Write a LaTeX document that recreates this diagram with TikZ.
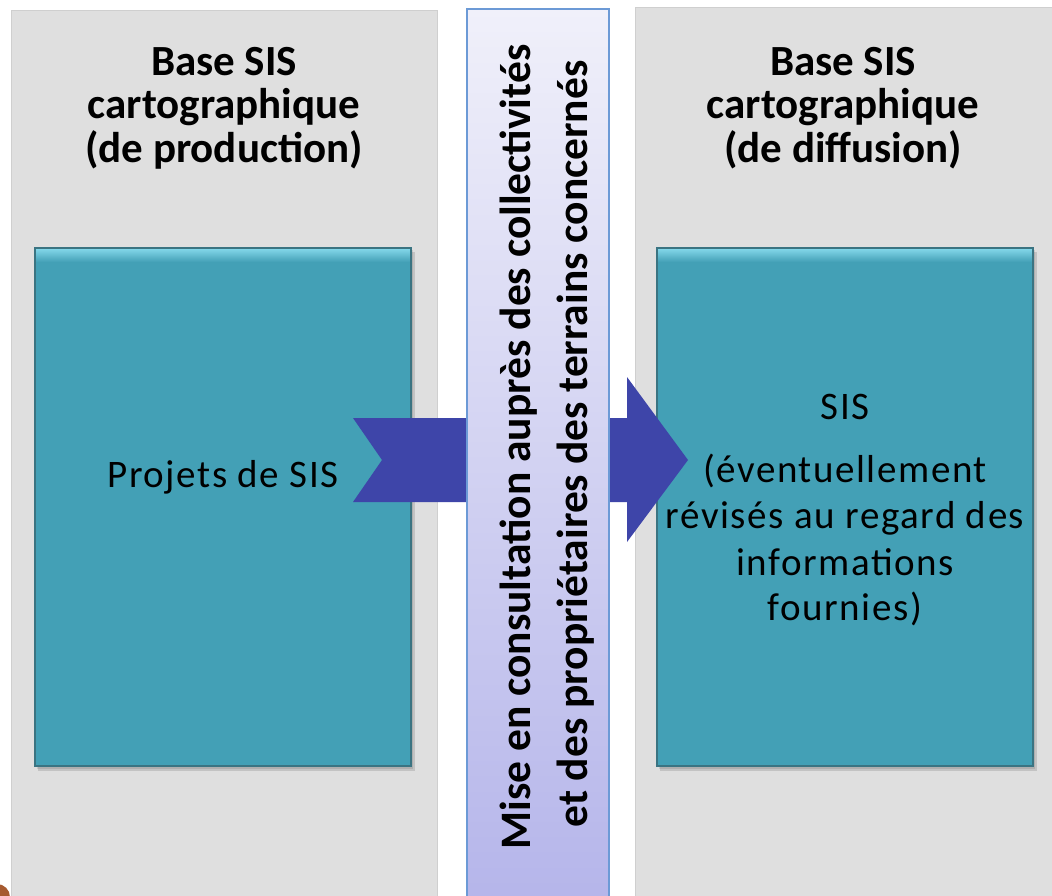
\documentclass[tikz,border=0pt]{standalone}
\usepackage{fontspec}
\setmainfont{Carlito}
\newfontfamily\bodyfont[LetterSpace=4]{Carlito}
\definecolor{panelgray}{HTML}{DFDFDF}
\definecolor{paneledge}{HTML}{CFCFCF}
\definecolor{tealfill}{HTML}{43A0B6}
\definecolor{teallight}{HTML}{86D9EC}
\definecolor{tealedge}{HTML}{3B7482}
\definecolor{bartop}{HTML}{F0F0FA}
\definecolor{barbot}{HTML}{B5B5EA}
\definecolor{baredge}{HTML}{6C9AD6}
\definecolor{arrowblue}{HTML}{3E45A9}
\definecolor{cornerbrown}{HTML}{A65A30}
\tikzset{
  panel/.style={fill=panelgray, draw=paneledge, line width=0.8pt},
  titletext/.style={font=\fontsize{43}{44}\selectfont\bfseries, anchor=base, inner sep=0pt},
  bodytext/.style={font=\bodyfont\fontsize{39}{46}\selectfont, anchor=base, inner sep=0pt},
  midtext/.style={font=\fontsize{43.5}{57}\selectfont\bfseries, anchor=base, inner sep=0pt, rotate=90},
}
\begin{document}
\begin{tikzpicture}[x=1pt,y=-1pt]
\useasboundingbox (0,0) rectangle (1052,895);
\clip (0,0) rectangle (1052,895);
\fill[white] (0,0) rectangle (1052,895);
% gray panels
\draw[panel] (11,10) rectangle (437,905);
\draw[panel] (635,7) rectangle (1062,905);
\fill[cornerbrown] (-3,897) circle (13);
% teal boxes with shadows
\foreach \xa/\xb in {35/411, 657/1033}{
  \fill[black, opacity=0.12] (\xa+3,252) rectangle (\xb+4,771);
  \fill[black, opacity=0.10] (\xa+2,250) rectangle (\xb+2,769);
  \fill[tealfill] (\xa,248) rectangle (\xb,766);
  \shade[top color=teallight, bottom color=tealfill] (\xa,248) rectangle (\xb,262);
  \draw[tealedge, line width=1.5pt] (\xa,248) rectangle (\xb,766);
}
\node[draw=none, minimum width=376pt, minimum height=518pt, inner sep=0pt] (prod) at (223,507) {};
\node[draw=none, minimum width=376pt, minimum height=518pt, inner sep=0pt] (diff) at (845,507) {};
% big arrow (behind the middle bar)
\coordinate (atail) at (353,460);
\coordinate (atip) at (688,460);
\fill[arrowblue] (atail |- 0,418) -- (627,418) -- (627,377) -- (atip) -- (627,542) -- (627,502) -- (atail |- 0,502) -- (382,460) -- cycle;
% middle bar
\shade[top color=bartop, bottom color=barbot] (467,9) rectangle (609,905);
\draw[baredge, line width=1.5pt] (467,905) -- (467,9) -- (609,9) -- (609,905);
\node[inner sep=0pt, minimum width=142pt, minimum height=886pt] (bar) at (538,452) {};
% titles
\node[titletext] (t1a) at (224,75) {Base SIS};
\node[titletext] (t1b) at (224,118) {cartographique};
\node[titletext] (t1c) at (224,162) {(de production)};
\node[titletext] (t2a) at (843,75) {Base SIS};
\node[titletext] (t2b) at (843,118) {cartographique};
\node[titletext] (t2c) at (843,162) {(de diffusion)};
% box texts
\node[bodytext] (p1) at (223,487) {Projets de SIS};
\node[bodytext] (d1) at (845,419) {SIS};
\node[bodytext] (d2) at (845,482) {(éventuellement};
\node[bodytext] (d3) at (845,528) {révisés au regard des};
\node[bodytext] (d4) at (845,575) {informations};
\node[bodytext] (d5) at (845,620) {fournies)};
% vertical text
\node[midtext] (m1) at (530,447) {Mise en consultation auprès des collectivités};
\node[midtext] (m2) at (587,444) {et des propriétaires des terrains concernés};
\end{tikzpicture}
\end{document}
